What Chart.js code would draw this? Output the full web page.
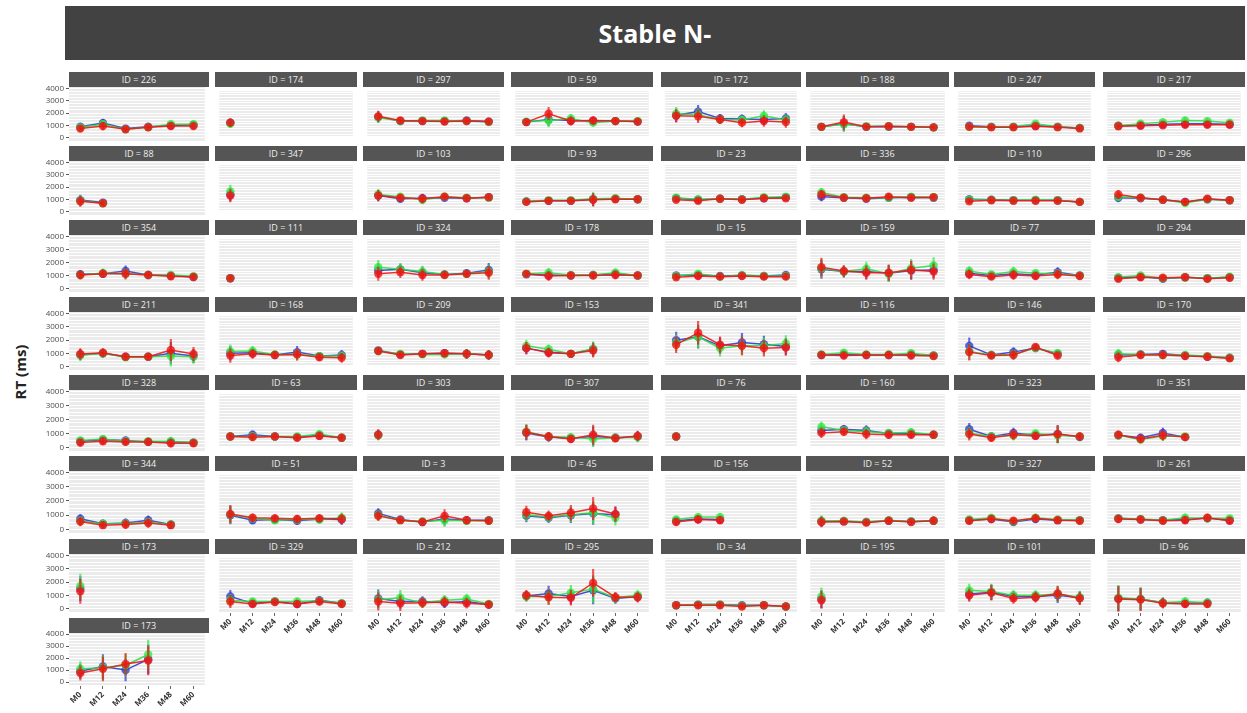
<!DOCTYPE html>
<html lang="en">
<head>
<meta charset="UTF-8">
<title>Stable N-</title>
<script src="https://cdn.jsdelivr.net/npm/chart.js"></script>
<style>
  body { margin: 0; background: #fff; font-family: "Open Sans", "Liberation Sans", Arial, sans-serif; }
  #page { position: relative; width: 1247px; height: 713px; overflow: hidden; }
  #title {
    position: absolute; left: 65px; top: 6px; width: 1180px; height: 54px;
    background: #424242; color: #fff; font-weight: bold; font-size: 25px;
    line-height: 54px; text-align: center;
  }
  .strip {
    position: absolute; height: 15px; background: #555; color: #eee;
    font-size: 9px; line-height: 15px; text-align: center;
  }
  canvas { position: absolute; }
  #ylab {
    position: absolute; left: -30px; top: 362px; width: 100px; height: 20px;
    transform: rotate(-90deg); text-align: center; font-weight: bold;
    font-size: 15px; line-height: 20px; color: #222;
  }
</style>
</head>
<body>
<div id="page">
  <div id="title">Stable N-</div>
  <div id="ylab">RT (ms)</div>
</div>

<script>
// data, panel order row by row (8 panels per row)
const months = ['M0', 'M12', 'M24', 'M36', 'M48', 'M60'];
const yTicks = [0, 1000, 2000, 3000, 4000];

const ids = [226, 174, 297, 59, 172, 188, 247, 217,
             88, 347, 103, 93, 23, 336, 110, 296,
             354, 111, 324, 178, 15, 159, 77, 294,
             211, 168, 209, 153, 341, 116, 146, 170,
             328, 63, 303, 307, 76, 160, 323, 351,
             344, 51, 3, 45, 156, 52, 327, 261,
             173, 329, 212, 295, 34, 195, 101, 96,
             173];

const blueRT = [
  [900,1200,750,900,1000,1050], [1100], [1650,1250,1250,1250,1300,1200], [1150,1400,1300,1250,1250,1200],
  [1800,2150,1500,1450,1400,1500], [700,1000,700,700,700,650], [800,700,700,800,700,600], [800,850,950,1000,1000,950],
  [950,750], [1300], [1200,900,950,1000,950,1050], [650,700,700,850,900,850],
  [950,800,900,850,950,1050], [1100,1000,900,1000,1050,1000], [850,800,750,750,750,600], [1000,950,800,600,850,750],
  [1100,1150,1350,1050,1000,900], [600], [1300,1400,1100,950,1050,1350], [950,900,850,900,1000,850],
  [850,900,800,850,800,900], [1400,1200,1200,1050,1300,1350], [1050,850,1000,900,1150,850], [650,750,550,700,600,700],
  [900,1000,750,750,1000,800], [850,900,700,950,600,700], [1100,750,800,850,800,700], [1300,950,800,1200],
  [2000,2300,1500,1800,1650,1450], [700,750,700,700,750,650], [1500,700,950,1300,800], [700,750,800,650,550,450],
  [450,550,500,400,400,350], [600,750,600,550,700,500], [750], [900,550,450,600,500,600],
  [600], [1100,1200,1100,850,850,750], [1200,600,900,700,800,550], [700,500,900,550],
  [750,400,450,650,350], [850,450,500,400,550,500], [1000,500,300,550,450,450], [800,650,850,1000,900],
  [400,550,500], [350,350,300,400,350,400], [450,550,300,550,450,450], [600,500,450,500,600,450],
  [1500], [1000,450,600,400,700,450], [850,600,600,500,600,350], [1050,1250,1000,1500,850,1000],
  [300,350,350,300,300,200], [800], [1200,1350,1000,1000,1100,900], [850,800,500,450,500],
  [900,1300,1000,1900]
];

const greenRT = [
  [850,1100,700,850,1100,1100], [1000], [1600,1250,1300,1300,1250,1150], [1200,1300,1500,1100,1250,1250],
  [1950,1850,1400,1350,1750,1350], [700,950,750,750,700,650], [700,700,700,1000,700,600], [800,1000,1150,1300,1250,1100],
  [900,700], [1600], [1300,1100,800,1100,1000,1000], [650,750,750,900,950,850],
  [1000,850,900,850,1050,1100], [1500,1050,1000,1000,1100,1050], [800,800,750,800,750,600], [1100,1000,800,500,850,750],
  [1050,1200,1150,1050,1050,950], [600], [1600,1400,1200,950,1000,1200], [1000,1100,900,900,1100,850],
  [800,1000,750,900,800,800], [1500,1200,1450,1000,1500,1750], [1250,950,1200,1050,1000,850], [700,850,600,700,600,750],
  [850,1000,700,750,800,750], [1000,1050,750,750,600,600], [1050,800,750,750,800,700], [1500,1200,800,1250],
  [1750,2300,1300,1500,1500,1700], [750,900,750,750,850,650], [1000,700,750,1300,850], [800,750,700,700,600,450],
  [500,600,450,450,450,350], [600,600,600,600,800,500], [700], [1000,600,550,400,500,550],
  [600], [1400,1100,1000,900,950,750], [900,600,700,850,700,600], [700,350,650,600],
  [600,400,400,500,350], [900,600,450,500,500,650], [850,450,350,450,400,400], [900,700,900,1050,650],
  [500,700,700], [400,400,300,450,350,400], [500,650,350,650,500,450], [600,550,450,650,600,600],
  [1700], [700,600,600,600,650,450], [750,900,500,700,800,400], [1000,1000,1300,1600,900,1100],
  [300,350,350,250,300,200], [1000], [1500,1400,1100,1100,1200,950], [900,800,500,600,500],
  [1100,1200,1400,2300]
];

const redRT = [
  [750,950,700,850,950,950], [1100], [1700,1300,1250,1200,1250,1200], [1150,1950,1250,1300,1250,1200],
  [1750,1700,1400,1100,1250,1150], [700,1150,700,750,700,650], [700,650,650,750,650,550], [750,800,850,900,900,900],
  [850,700], [1200], [1200,1000,900,1100,950,1050], [600,700,700,800,850,850],
  [800,700,900,800,950,950], [1300,1000,950,1100,1000,1050], [650,750,700,700,700,600], [1300,1000,800,600,900,750],
  [1050,1150,1150,1050,950,900], [600], [1000,1150,900,900,1000,1100], [1000,800,850,850,900,850],
  [700,800,750,800,750,750], [1600,1250,1100,1100,1350,1200], [950,750,900,800,950,800], [550,700,650,700,550,650],
  [950,1050,750,750,1250,950], [650,800,700,750,500,450], [1050,700,800,850,800,700], [1300,900,800,1100],
  [1600,2650,1600,1500,1300,1350], [700,650,700,700,650,600], [950,650,700,1400,650], [500,700,700,600,550,400],
  [350,450,400,400,300,300], [600,550,600,500,650,500], [750], [950,600,400,750,450,650],
  [600], [900,1000,800,750,750,750], [800,500,750,650,800,600], [750,400,700,550],
  [550,300,350,450,300], [950,650,600,550,600,550], [800,450,300,800,450,400], [1100,800,1050,1400,950],
  [300,500,450], [300,350,250,400,300,400], [400,550,400,600,450,400], [550,500,400,450,650,400],
  [1300], [600,400,550,400,600,400], [600,450,500,550,450,350], [1100,950,900,2100,950,950],
  [300,300,300,200,300,200], [700], [1100,1300,850,950,1250,850], [800,750,450,400,400],
  [750,1100,1500,1800]
];

// half-width of the error bars, per panel
const errRT = [
  [250,300,200,200,250,250], [350], [500,300,250,300,300,250], [300,600,400,350,300,300],
  [600,600,400,400,500,500], [150,700,150,150,150,150], [150,150,150,200,150,150], [200,250,250,300,300,250],
  [400,200], [600], [500,300,400,300,250,250], [150,150,150,600,250,200],
  [200,200,200,200,200,200], [400,200,200,300,200,200], [200,150,150,150,150,150], [400,250,200,300,200,200],
  [300,300,400,250,250,200], [200], [600,500,500,300,300,600], [250,400,250,250,350,200],
  [250,300,200,200,200,250], [800,500,600,700,800,700], [400,250,400,300,400,250], [200,300,200,200,200,200],
  [400,300,250,250,800,500], [600,400,300,500,300,400], [250,200,250,300,400,400], [500,400,300,600],
  [700,1000,700,800,700,700], [200,300,200,200,300,200], [700,250,400,250,300], [400,250,300,300,250,200],
  [250,250,250,250,300,250], [200,300,200,250,300,200], [400], [600,350,300,800,300,400],
  [200], [400,300,400,300,300,250], [500,300,400,300,700,300], [300,300,400,250],
  [300,250,300,300,250], [700,300,300,300,300,400], [400,250,250,500,300,250], [500,400,600,900,600],
  [250,300,300], [400,200,250,250,200,300], [250,250,250,300,250,250], [300,250,250,300,300,250],
  [900], [500,250,200,250,300,250], [700,600,400,400,400,300], [400,600,600,1100,400,400],
  [150,200,200,200,150,150], [700], [500,600,400,400,600,500], [1000,900,400,300,300],
  [600,1000,900,1200]
];

// layout of the facet grid (pixels)
const colLeft  = [69, 215, 363, 511, 661, 806, 954, 1103];
const colRight = [209, 357, 504, 653, 801, 949, 1095, 1245];
const stripTop = [72, 146, 220, 297, 375, 456, 539, 618];
const plotBottom = [141, 215, 292, 370, 451, 533, 612, 685];
const STRIP_H = 15, YAXIS_W = 44, XAXIS_H = 34, EXTRA = 6;

const series = [
  { vals: blueRT,  line: 'rgba(40,50,200,0.85)',  point: 'rgba(40,50,210,0.75)',  bar: 'rgba(40,50,210,0.7)' },
  { vals: greenRT, line: 'rgba(40,220,60,0.85)',  point: 'rgba(40,235,60,0.75)',  bar: 'rgba(40,235,60,0.7)' },
  { vals: redRT,   line: 'rgba(235,25,25,0.9)',   point: 'rgba(240,20,20,0.8)',   bar: 'rgba(240,20,20,0.7)' }
];

Chart.defaults.font.family = '"Open Sans", "Liberation Sans", sans-serif';

const panelBg = {
  id: 'panelBg',
  beforeDraw(chart) {
    const a = chart.chartArea, c = chart.ctx;
    c.save();
    c.fillStyle = '#ebebeb';
    c.fillRect(a.left, a.top, a.right - a.left, a.bottom - a.top);
    c.restore();
  }
};

const page = document.getElementById('page');

ids.forEach((id, i) => {
  const row = Math.floor(i / 8), col = i % 8;
  const isLeft = col === 0;
  const isBottom = row === 7 || (row === 6 && col > 0);

  const strip = document.createElement('div');
  strip.className = 'strip';
  strip.style.left = colLeft[col] + 'px';
  strip.style.top = stripTop[row] + 'px';
  strip.style.width = (colRight[col] - colLeft[col]) + 'px';
  strip.textContent = 'ID = ' + id;
  page.appendChild(strip);

  const plotTop = stripTop[row] + STRIP_H;
  const padTop = isLeft ? EXTRA : 0;
  const padBottom = isLeft && !isBottom ? EXTRA : 0;
  const cv = document.createElement('canvas');
  const w = colRight[col] - colLeft[col] + (isLeft ? YAXIS_W : 0);
  const h = plotBottom[row] - plotTop + (isBottom ? XAXIS_H : 0) + padTop + padBottom;
  cv.width = w; cv.height = h;
  cv.style.left = (colLeft[col] - (isLeft ? YAXIS_W : 0)) + 'px';
  cv.style.top = (plotTop - padTop) + 'px';
  page.appendChild(cv);

  const datasets = [];
  series.forEach((s, k) => {
    const v = s.vals[i];
    datasets.push({
      type: 'bar',
      data: v.map((y, j) => [y - errRT[i][j], y + errRT[i][j]]),
      backgroundColor: s.bar,
      barThickness: 1.5,
      grouped: false,
      order: 10 - k * 2
    });
    datasets.push({
      type: 'line',
      data: v,
      borderColor: s.line,
      borderWidth: 1.5,
      backgroundColor: s.point,
      pointBackgroundColor: s.point,
      pointBorderWidth: 0,
      pointRadius: 4.2,
      tension: 0,
      order: 9 - k * 2
    });
  });

  new Chart(cv, {
    type: 'line',
    data: { labels: months, datasets },
    options: {
      responsive: false,
      animation: false,
      events: [],
      layout: { padding: { top: padTop, bottom: padBottom, left: 0, right: 0 } },
      plugins: { legend: { display: false }, tooltip: { enabled: false } },
      scales: {
        x: {
          type: 'category',
          offset: true,
          display: isBottom,
          border: { display: false },
          grid: { display: true, offset: false, drawOnChartArea: false, drawTicks: true, tickLength: 4, color: '#666' },
          ticks: { minRotation: 45, maxRotation: 45, autoSkip: false, padding: 1, color: '#333',
                   font: { size: 8, weight: 'bold' } },
          afterFit: s => { s.height = isBottom ? XAXIS_H : 0; s.paddingLeft = 0; s.paddingRight = 0; }
        },
        y: {
          min: -250,
          max: 4100,
          border: { display: false },
          ticks: {
            stepSize: 250, autoSkip: false, includeBounds: false, display: isLeft,
            padding: 2, color: '#4d4d4d', font: { size: 8 },
            callback: v => yTicks.includes(v) ? v : ''
          },
          grid: {
            color: '#ffffff', lineWidth: 1, drawTicks: isLeft, tickLength: 3,
            tickColor: ctx => (ctx.tick && yTicks.includes(ctx.tick.value)) ? '#555' : 'rgba(0,0,0,0)'
          },
          afterFit: s => { s.width = isLeft ? YAXIS_W : 0; s.paddingTop = 0; s.paddingBottom = 0; }
        }
      }
    },
    plugins: [panelBg]
  });
});
</script>
</body>
</html>
